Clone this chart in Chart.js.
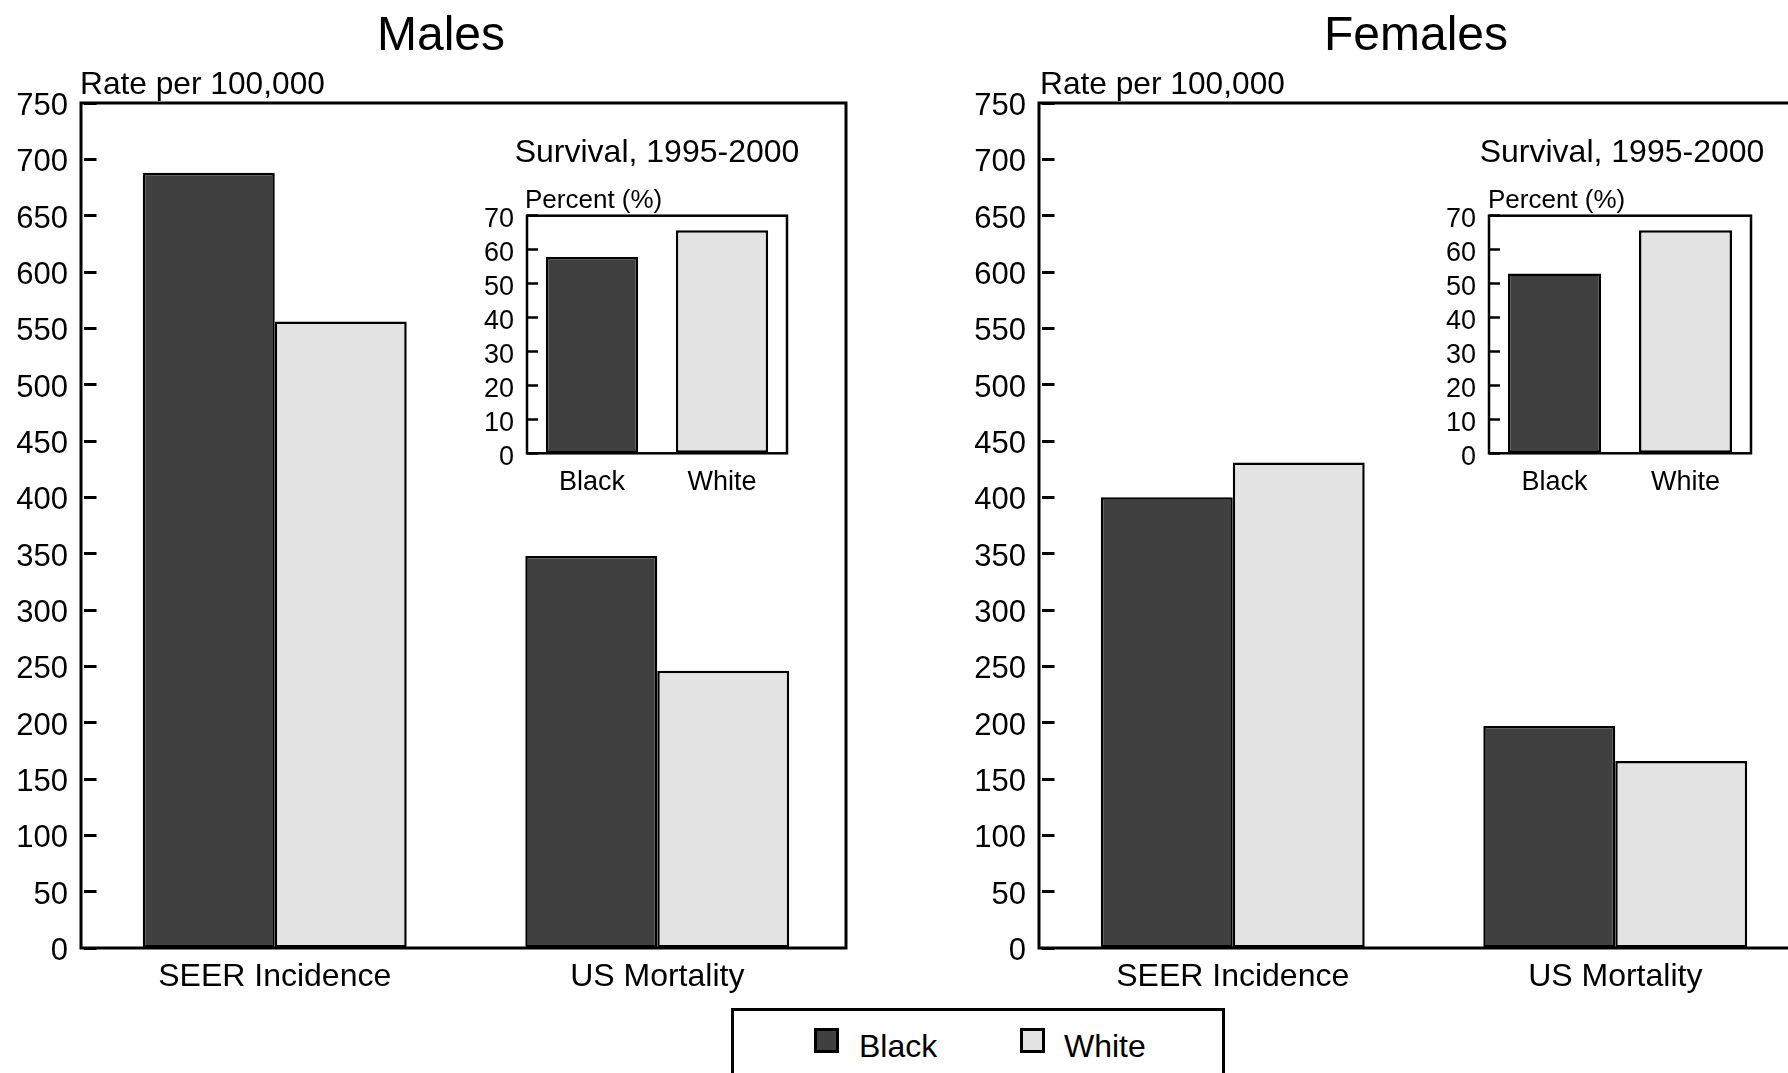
<!DOCTYPE html>
<html>
<head>
<meta charset="utf-8">
<script src="https://cdn.jsdelivr.net/npm/chart.js@4.4.1/dist/chart.umd.min.js"></script>
<style>
  html, body { margin: 0; padding: 0; background: #fff; }
  body { width: 1788px; height: 1073px; overflow: hidden; position: relative;
         font-family: 'Liberation Sans', Arial, sans-serif; color: #000; }
  canvas, .txt, .legend { position: absolute; }
  .txt { line-height: 1; white-space: nowrap; }
  .center { text-align: center; width: 600px; }
  .legend { border: 3px solid #000; box-sizing: border-box; background: #fff; }
  .swatch { position: absolute; width: 25px; height: 25px; border: 3px solid #000; box-sizing: border-box; }
</style>
</head>
<body>
<canvas id="males" width="882" height="1000" style="left:0px;top:0px;width:882px;height:1000px"></canvas>
<canvas id="females" width="882" height="1000" style="left:958px;top:0px;width:882px;height:1000px"></canvas>
<canvas id="malesInset" width="340" height="300" style="left:460px;top:200px;width:340px;height:300px"></canvas>
<canvas id="femalesInset" width="342" height="300" style="left:1422px;top:200px;width:342px;height:300px"></canvas>

<div class="txt center" style="left:141px;top:9.5px;font-size:48px">Males</div>
<div class="txt center" style="left:1116px;top:9.5px;font-size:48px">Females</div>
<div class="txt" style="left:80px;top:68px;font-size:31.7px">Rate per 100,000</div>
<div class="txt" style="left:1040px;top:68px;font-size:31.7px">Rate per 100,000</div>
<div class="txt center" style="left:357px;top:134.6px;font-size:32px">Survival, 1995-2000</div>
<div class="txt center" style="left:1322px;top:134.6px;font-size:32px">Survival, 1995-2000</div>
<div class="txt" style="left:525px;top:185.5px;font-size:26px">Percent (%)</div>
<div class="txt" style="left:1488px;top:185.5px;font-size:26px">Percent (%)</div>

<div class="legend" style="left:731px;top:1008px;width:494px;height:100px">
  <div class="swatch" style="left:80px;top:17px;background:#404040"></div>
  <div class="txt" style="left:125px;top:18.6px;font-size:32px">Black</div>
  <div class="swatch" style="left:286px;top:17px;background:#e3e3e3"></div>
  <div class="txt" style="left:330px;top:18.6px;font-size:32px">White</div>
</div>

<script>
const groups = ['SEER Incidence', 'US Mortality'];
const maleBlack = [688, 348];
const maleWhite = [556, 246];
const femaleBlack = [400, 197];
const femaleWhite = [431, 166];

const races = ['Black', 'White'];
const maleSurvival = [57.8, 65.7];
const femaleSurvival = [53.0, 65.7];

const DARK = '#404040';
const LIGHT = '#e3e3e3';

Chart.defaults.font.family = "'Liberation Sans', Arial, sans-serif";
Chart.defaults.color = '#000';

// box round the plot area (shift: the original frame sits a little left of the category grid)
const framePlugin = {
  id: 'frame',
  afterDatasetsDraw(chart, args, opts) {
    const { ctx, chartArea: a } = chart;
    const dx = opts.shift || 0;
    ctx.save();
    ctx.strokeStyle = '#000';
    ctx.lineWidth = opts.width;
    ctx.strokeRect(a.left + dx, a.top, a.right - a.left, a.bottom - a.top);
    ctx.restore();
  }
};

// fixed axis width, and no extra label padding pushed into the layout
function fixWidth(w) {
  return s => {
    s.width = w;
    s.paddingTop = 0;
    s.paddingBottom = 0;
  };
}

function makePanel(id, black, white) {
  return new Chart(document.getElementById(id), {
    type: 'bar',
    data: {
      labels: groups,
      datasets: [
        { label: 'Black', data: black, backgroundColor: DARK, borderColor: '#000', borderWidth: 2.5, borderSkipped: false },
        { label: 'White', data: white, backgroundColor: LIGHT, borderColor: '#000', borderWidth: 2.5, borderSkipped: false }
      ]
    },
    options: {
      responsive: false,
      animation: false,
      events: [],
      layout: { padding: { top: 103, right: 33.5, bottom: 0, left: 0 } },
      datasets: { bar: { categoryPercentage: 0.69, barPercentage: 1.0 } },
      plugins: { legend: { display: false }, tooltip: { enabled: false }, frame: { width: 3, shift: -2.5 } },
      scales: {
        x: {
          grid: { display: false, drawTicks: false },
          border: { display: false },
          ticks: { font: { size: 32 }, padding: 10, maxRotation: 0 },
          afterFit: s => { s.height = 52; }
        },
        y: {
          min: 0, max: 750,
          grid: { drawOnChartArea: false, tickLength: -13, tickWidth: 3, tickColor: '#000' },
          border: { display: false },
          ticks: { stepSize: 50, autoSkip: false, font: { size: 31 }, padding: 28.5, labelOffset: 3.5 },
          afterFit: fixWidth(83.5)
        }
      }
    },
    plugins: [framePlugin]
  });
}

function makeInset(id, values, rightPad) {
  return new Chart(document.getElementById(id), {
    type: 'bar',
    data: {
      labels: races,
      datasets: [{ data: values, backgroundColor: [DARK, LIGHT], borderColor: '#000', borderWidth: 2.5, borderSkipped: false }]
    },
    options: {
      responsive: false,
      animation: false,
      events: [],
      layout: { padding: { top: 15.7, right: rightPad, bottom: 0, left: 0 } },
      datasets: { bar: { categoryPercentage: 1.0, barPercentage: 0.71 } },
      plugins: { legend: { display: false }, tooltip: { enabled: false }, frame: { width: 2.5 } },
      scales: {
        x: {
          grid: { display: false, drawTicks: false },
          border: { display: false },
          ticks: { font: { size: 27 }, padding: 13, maxRotation: 0 },
          afterFit: s => { s.height = 46.7; }
        },
        y: {
          min: 0, max: 70,
          grid: { drawOnChartArea: false, tickLength: -11, tickWidth: 2.5, tickColor: '#000' },
          border: { display: false },
          ticks: { stepSize: 10, autoSkip: false, font: { size: 27 }, padding: 24, labelOffset: 4 },
          afterFit: fixWidth(67)
        }
      }
    },
    plugins: [framePlugin]
  });
}

makePanel('males', maleBlack, maleWhite);
makePanel('females', femaleBlack, femaleWhite);
makeInset('malesInset', maleSurvival, 13);
makeInset('femalesInset', femaleSurvival, 13);
</script>
</body>
</html>
